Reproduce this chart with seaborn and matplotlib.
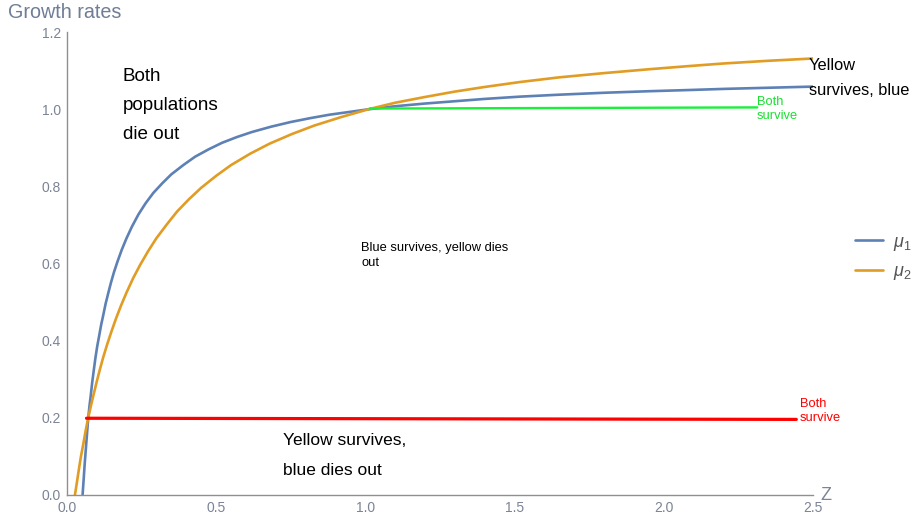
import numpy as np
import pandas as pd
import seaborn as sns
import matplotlib
matplotlib.use("Agg")
import matplotlib.pyplot as plt

# Growth-rate curves mu(Z) for the two populations
z_blue = [0.053, 0.057, 0.060, 0.063, 0.066, 0.069, 0.072, 0.076, 0.080, 0.085,
          0.090, 0.096, 0.102, 0.108, 0.115, 0.122, 0.130, 0.139, 0.148, 0.158,
          0.170, 0.184, 0.200, 0.218, 0.240, 0.264, 0.290, 0.320, 0.350, 0.390,
          0.430, 0.475, 0.520, 0.570, 0.620, 0.685, 0.750, 0.815, 0.880, 0.945,
          1.010, 1.100, 1.200, 1.300, 1.400, 1.520, 1.650, 1.800, 1.950, 2.080,
          2.200, 2.350, 2.500]
mu_blue = [0.000, 0.045, 0.080, 0.110, 0.140, 0.170, 0.200, 0.230, 0.255, 0.290,
           0.320, 0.355, 0.385, 0.410, 0.440, 0.465, 0.495, 0.523, 0.550, 0.577,
           0.605, 0.635, 0.665, 0.695, 0.727, 0.756, 0.783, 0.808, 0.831, 0.855,
           0.877, 0.896, 0.913, 0.928, 0.941, 0.955, 0.967, 0.977, 0.986, 0.993,
           1.000, 1.008, 1.015, 1.021, 1.027, 1.033, 1.038, 1.043, 1.047, 1.050,
           1.053, 1.056, 1.059]

z_orange = [0.0275, 0.034, 0.040, 0.047, 0.055, 0.063, 0.072, 0.081, 0.090, 0.100,
            0.110, 0.122, 0.135, 0.150, 0.165, 0.182, 0.200, 0.222, 0.245, 0.272,
            0.300, 0.335, 0.370, 0.410, 0.450, 0.500, 0.550, 0.615, 0.680, 0.755,
            0.830, 0.920, 1.010, 1.100, 1.200, 1.300, 1.400, 1.520, 1.650, 1.800,
            1.950, 2.080, 2.200, 2.350, 2.500]
mu_orange = [0.000, 0.032, 0.063, 0.097, 0.130, 0.165, 0.200, 0.231, 0.260, 0.292,
             0.322, 0.356, 0.389, 0.424, 0.457, 0.491, 0.524, 0.561, 0.595, 0.631,
             0.665, 0.701, 0.735, 0.767, 0.796, 0.827, 0.855, 0.885, 0.911, 0.936,
             0.958, 0.980, 1.000, 1.017, 1.032, 1.046, 1.058, 1.071, 1.083, 1.094,
             1.104, 1.112, 1.119, 1.126, 1.132]

# Coexistence markers
z_red = [0.066, 2.445]
mu_red = [0.198, 0.195]
z_green = [1.015, 2.314]
mu_green = [1.002, 1.005]

series_labels = [r"$\mu_1$", r"$\mu_2$"]
x_ticks = [0.0, 0.5, 1.0, 1.5, 2.0, 2.5]
y_ticks = [0.0, 0.2, 0.4, 0.6, 0.8, 1.0, 1.2]

sns.set_style("white")
plt.rcParams["font.family"] = ["Liberation Sans", "DejaVu Sans"]
plt.rcParams["mathtext.fontset"] = "custom"
plt.rcParams["mathtext.rm"] = "Liberation Sans"
plt.rcParams["mathtext.it"] = "Liberation Sans:italic"

W, H = 914, 520
fig = plt.figure(figsize=(W / 100, H / 100), dpi=100)
x0, x1 = 66.8, 812.7
y0, y1 = 494.5, 32.3
ax = fig.add_axes([x0 / W, 1 - y0 / H, (x1 - x0) / W, (y0 - y1) / H])

df = pd.concat([
    pd.DataFrame({"Z": z_blue, "mu": mu_blue, "series": series_labels[0]}),
    pd.DataFrame({"Z": z_orange, "mu": mu_orange, "series": series_labels[1]}),
])
blue, orange = "#5e81b5", "#e19c24"
sns.lineplot(data=df, x="Z", y="mu", hue="series", palette=[blue, orange],
             estimator=None, lw=1.9, ax=ax, legend=False)
sns.lineplot(x=z_red, y=mu_red, color="#ff0000", lw=2.3, ax=ax, estimator=None)
sns.lineplot(x=z_green, y=mu_green, color="#19f03a", lw=1.7, ax=ax, estimator=None)

ax.set_xlim(0, 2.5)
ax.set_ylim(0, 1.2)
ax.set_xticks(x_ticks)
ax.set_yticks(y_ticks)
ax.set_xticklabels([f"{v:.1f}" for v in x_ticks])
ax.set_yticklabels([f"{v:.1f}" for v in y_ticks])
ax.set_xticks(np.arange(0, 2.501, 0.1), minor=True)
ax.set_yticks(np.arange(0, 1.201, 0.05), minor=True)
ax.set_xlabel("")
ax.set_ylabel("")

axis_gray = "#8f8f8f"
label_gray = "#7b8396"
for s in ["top", "right"]:
    ax.spines[s].set_visible(False)
for s in ["left", "bottom"]:
    ax.spines[s].set_color(axis_gray)
    ax.spines[s].set_linewidth(1.0)
ax.tick_params(which="major", direction="in", length=4.0, width=0.9,
               color=axis_gray, labelcolor=label_gray, labelsize=10, pad=4)
ax.tick_params(which="minor", direction="in", length=2.4, width=0.8,
               color=axis_gray)
ax.tick_params(axis="x", which="major", pad=5)
ax.patch.set_alpha(0)


def fx(x, y):
    return x / W, 1 - y / H


# Axis titles
fig.text(*fx(8, 18.5), "Growth rates", color="#6f7d96", fontsize=14.2,
         va="baseline", ha="left")
fig.text(*fx(820, 500), "Z", color="#7b8396", fontsize=13,
         va="baseline", ha="left")

# Region annotations
big = 13.6
for txt, yb in [("Both", 81), ("populations", 110), ("die out", 139)]:
    fig.text(*fx(123, yb), txt, fontsize=big, color="black", va="baseline")
for txt, yb in [("Yellow survives,", 445), ("blue dies out", 475)]:
    fig.text(*fx(283, yb), txt, fontsize=12.5, color="black", va="baseline")
for txt, yb in [("Yellow", 70), ("survives, blue", 95)]:
    fig.text(*fx(809, yb), txt, fontsize=11.8, color="black", va="baseline")
for txt, yb in [("Blue survives, yellow dies", 251), ("out", 266)]:
    fig.text(*fx(361, yb), txt, fontsize=9.3, color="black", va="baseline")
for txt, yb in [("Both", 105), ("survive", 119)]:
    fig.text(*fx(757, yb), txt, fontsize=9.3, color="#19e030", va="baseline")
for txt, yb in [("Both", 407), ("survive", 421)]:
    fig.text(*fx(800, yb), txt, fontsize=9.3, color="#ff0000", va="baseline")

# Legend
handles = [plt.Line2D([], [], color=blue, lw=1.9),
           plt.Line2D([], [], color=orange, lw=1.9)]
fig.legend(handles, series_labels, loc="center left",
           bbox_to_anchor=fx(855, 258), frameon=False, borderpad=0,
           borderaxespad=0, handlelength=1.55, handletextpad=0.55,
           labelspacing=0.6, fontsize=13, labelcolor="#555555")

fig.savefig("out.png", dpi=100)
